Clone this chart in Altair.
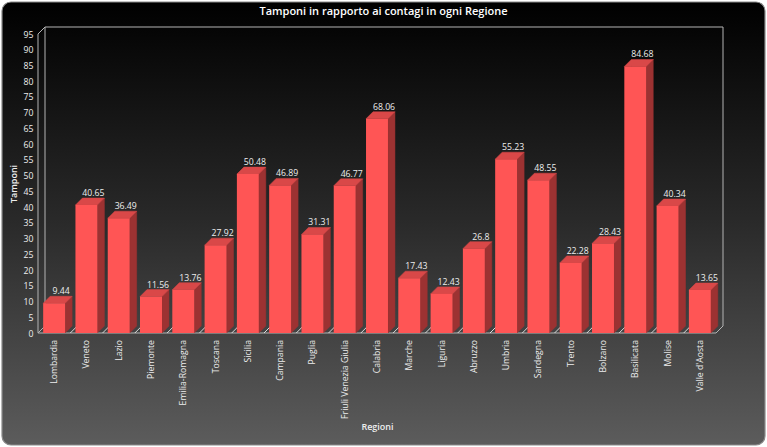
import altair as alt
import pandas as pd

# ---------------- data ----------------
regions = ["Lombardia", "Veneto", "Lazio", "Piemonte", "Emilia-Romagna", "Toscana",
           "Sicilia", "Campania", "Puglia", "Friuli Venezia Giulia", "Calabria",
           "Marche", "Liguria", "Abruzzo", "Umbria", "Sardegna", "Trento", "Bolzano",
           "Basilicata", "Molise", "Valle d'Aosta"]
tamponi = [9.44, 40.65, 36.49, 11.56, 13.76, 27.92, 50.48, 46.89, 31.31, 46.77, 68.06,
           17.43, 12.43, 26.8, 55.23, 48.55, 22.28, 28.43, 84.68, 40.34, 13.65]
y_ticks = list(range(0, 100, 5))

# ---------------- geometry / style constants ----------------
W, H = 678, 299
PAD = {"left": 38, "top": 34, "right": 51, "bottom": 114}
N = len(regions)
Y_MAX = 95
DEPTH_X_PX, DEPTH_Y_PX = 7, 7
HALF_W = 0.34
DX = DEPTH_X_PX * N / W
DY = DEPTH_Y_PX * Y_MAX / H

FRONT, TOP, SIDE = "#ff5555", "#d94848", "#9c3232"
TXT = "#eeeeee"
FONT = "Open Sans"
SMALL = 8.7

bars = pd.DataFrame({"region": regions, "value": tamponi})
bars["label"] = [str(v) for v in tamponi]
bars["pos"] = bars.index + 0.5
bars["x1"] = bars["pos"] - HALF_W
bars["x2"] = bars["pos"] + HALF_W
bars["yback"] = bars["value"] + DY
bars["xlab"] = bars["pos"] + DX

side_rows, top_rows = [], []
for r in bars.itertuples():
    side_rows += [
        {"region": r.region, "x": r.x2, "lo": 0.0, "hi": r.value},
        {"region": r.region, "x": r.x2 + DX, "lo": DY, "hi": r.value + DY},
    ]
    top_rows += [
        {"region": r.region, "x": r.x1, "lo": r.value, "hi": r.value},
        {"region": r.region, "x": r.x1 + DX, "lo": r.value, "hi": r.value + DY},
        {"region": r.region, "x": r.x2, "lo": r.value, "hi": r.value + DY},
        {"region": r.region, "x": r.x2 + DX, "lo": r.value + DY, "hi": r.value + DY},
    ]
side = pd.DataFrame(side_rows)
top = pd.DataFrame(top_rows)

frame = pd.DataFrame([
    {"x": 0, "y": 0, "x2": 0, "y2": Y_MAX},
    {"x": DX, "y": DY, "x2": DX, "y2": Y_MAX + DY},
    {"x": 0, "y": Y_MAX, "x2": DX, "y2": Y_MAX + DY},
    {"x": DX, "y": Y_MAX + DY, "x2": N + DX, "y2": Y_MAX + DY},
    {"x": N + DX, "y": DY, "x2": N + DX, "y2": Y_MAX + DY},
    {"x": 0, "y": 0, "x2": N, "y2": 0},
    {"x": 0, "y": 0, "x2": DX, "y2": DY},
    {"x": N, "y": 0, "x2": N + DX, "y2": DY},
])
floor_grid = pd.DataFrame([{"x": i, "y": 0, "x2": i + DX, "y2": DY} for i in range(1, N)])

xs = alt.Scale(domain=[0, N], nice=False, zero=False)
ys = alt.Scale(domain=[0, Y_MAX], nice=False, zero=False)

x_axis = alt.Axis(title="Regioni", labels=False, ticks=False, domain=False,
                  grid=False, titlePadding=89, titleFontSize=9,
                  titleFontWeight=600, titleColor=TXT, zindex=1)
y_axis = alt.Axis(title="Tamponi", values=y_ticks, ticks=False, domain=False,
                  grid=False, labelPadding=5, labelFontSize=SMALL,
                  labelColor=TXT, titlePadding=5, titleFontSize=9,
                  titleFontWeight=600, titleColor=TXT, zindex=1)


def X(field):
    return alt.X(field, scale=xs, axis=x_axis, title="Regioni")


def Y(field, **kw):
    return alt.Y(field, scale=ys, axis=y_axis, title="Tamponi", **kw)


gradient = alt.LinearGradient(
    gradient="linear",
    stops=[alt.GradientStop(color="#000000", offset=0),
           alt.GradientStop(color="#2a2a2a", offset=0.5),
           alt.GradientStop(color="#5c5c5c", offset=1)],
    x1=0, x2=0, y1=0, y2=1)

background = alt.Chart(pd.DataFrame({"k": [0]})).mark_rect(
    fill=gradient, cornerRadius=9, stroke="#8a8a8a", strokeWidth=1.2
).encode(
    x=alt.value(2 - PAD["left"]), x2=alt.value(765 - PAD["left"]),
    y=alt.value(2 - PAD["top"]), y2=alt.value(445 - PAD["top"]),
)

frame_lines = alt.Chart(frame).mark_rule(color="#b4b4b4", strokeWidth=1).encode(
    x=X("x:Q"), x2="x2:Q", y=Y("y:Q"), y2="y2:Q",
)
grid_lines = alt.Chart(floor_grid).mark_rule(color="#dddddd", strokeWidth=1).encode(
    x=X("x:Q"), x2="x2:Q", y=Y("y:Q"), y2="y2:Q",
)

side_faces = alt.Chart(side).mark_area(
    orient="vertical", color=SIDE, stroke=SIDE, strokeWidth=0.5, opacity=1
).encode(
    x=X("x:Q"), y=Y("hi:Q", stack=None), y2="lo:Q", detail="region:N",
)
top_faces = alt.Chart(top).mark_area(
    orient="vertical", color=TOP, stroke=TOP, strokeWidth=0.5, opacity=1
).encode(
    x=X("x:Q"), y=Y("hi:Q", stack=None), y2="lo:Q", detail="region:N",
)
front = alt.Chart(bars).mark_rect(color=FRONT).encode(
    x=X("x1:Q"), x2="x2:Q", y=Y("value:Q"), y2=alt.datum(0),
)
value_text = alt.Chart(bars).mark_text(
    baseline="alphabetic", dy=-2, fontSize=SMALL, color=TXT, font=FONT
).encode(
    x=X("xlab:Q"), y=Y("yback:Q"), text="label:N",
)
cat_text = alt.Chart(bars).mark_text(
    angle=270, align="right", baseline="middle", fontSize=SMALL, color=TXT, font=FONT
).encode(
    x=X("pos:Q"), y=alt.value(H + 7), text="region:N",
)
title_text = alt.Chart(pd.DataFrame({"t": ["Tamponi in rapporto ai contagi in ogni Regione"]})).mark_text(
    align="center", baseline="middle", fontSize=11, fontWeight=600, color="#ffffff", font=FONT
).encode(
    x=alt.value(383.5 - PAD["left"]), y=alt.value(12 - PAD["top"]), text="t:N",
)

chart = alt.layer(
    background, frame_lines, grid_lines, side_faces, top_faces, front,
    value_text, cat_text, title_text
).properties(
    width=W, height=H, autosize="none", padding=PAD
).configure_view(stroke=None).configure_axis(
    labelFont=FONT, titleFont=FONT
)

chart.save("out.html", embed_options={"renderer": "svg", "actions": False})
